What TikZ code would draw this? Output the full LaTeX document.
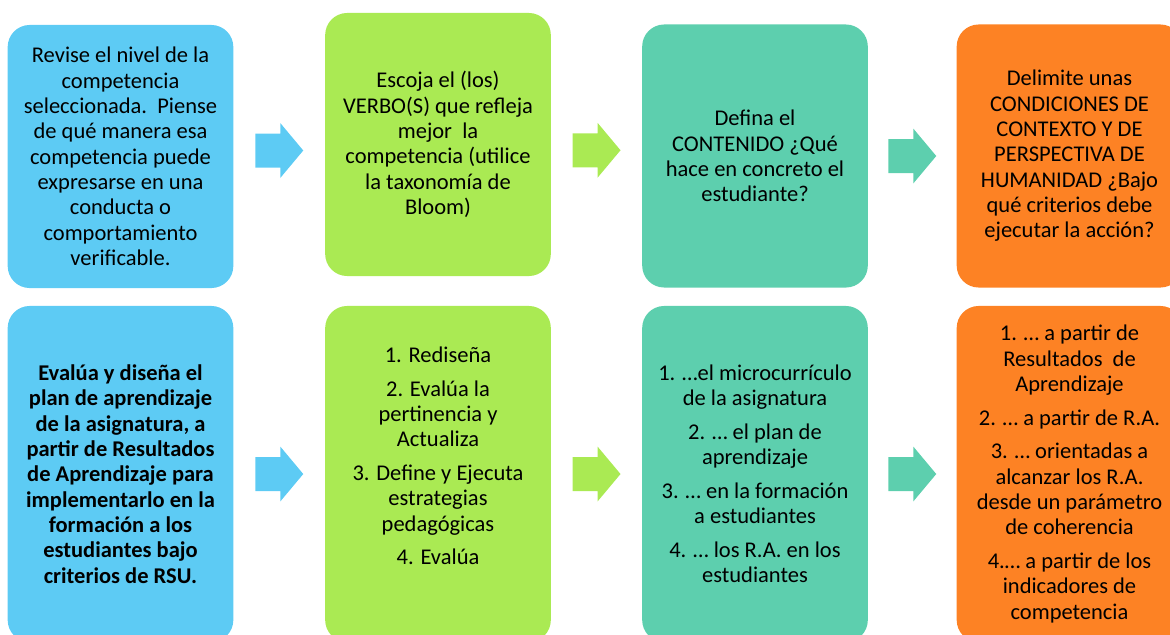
\documentclass[tikz,border=0pt]{standalone}
\usepackage{fontspec}
\setmainfont{Carlito}
\usetikzlibrary{calc}

\definecolor{cblue}{RGB}{93,203,244}
\definecolor{cgreen}{RGB}{170,234,83}
\definecolor{cteal}{RGB}{93,207,174}
\definecolor{corange}{RGB}{253,130,36}

\tikzset{
  box/.style={rounded corners=0.55cm, minimum width=5.64cm, inner sep=0pt, outer sep=0pt},
  toprow/.style={box, minimum height=6.575cm},
  lowrow/.style={box, minimum height=8.4cm},
  txt/.style={align=center, inner sep=0pt, font=\fontsize{16}{18}\selectfont},
}

\begin{document}
\begin{tikzpicture}[x=0.025cm, y=-0.025cm]
  \path[use as bounding box, clip] (0,0) rectangle (1170,634);
  % boxes
  \foreach \i / \x / \y / \col in {1/120.5/156.5/cblue, 2/438/144.5/cgreen, 3/755/156/cteal, 4/1069.5/156/corange} {
    \node[toprow, fill=\col] (b\i) at (\x,\y) {};
  }
  \foreach \i / \x / \col in {5/120.5/cblue, 6/438/cgreen, 7/755/cteal, 8/1069.5/corange} {
    \node[lowrow, fill=\col] (b\i) at (\x,474) {};
  }
  % arrows between the boxes
  \foreach \p / \q / \col in {b1/b2/cblue, b2/b3/cgreen, b3/b4/cteal, b5/b6/cblue, b6/b7/cgreen, b7/b8/cteal} {
    \path[fill=\col, shift={($(\p.east)!0.5!(\q.west)$)}]
      (-24,-17) -- (1,-17) -- (1,-27.5) -- (24,0) -- (1,27.5) -- (1,17) -- (-24,17) -- cycle;
  }
  % texts
  \node[txt] (t1) at (b1) {Revise el nivel de la\\competencia\\seleccionada.\ \ Piense\\de qué manera esa\\competencia puede\\expresarse en una\\conducta o\\comportamiento\\verificable.};
  \node[txt] (t2) at (b2) {Escoja el (los)\\VERBO(S) que refleja\\mejor\ \ la\\competencia (utilice\\la taxonomía de\\Bloom)};
  \node[txt] (t3) at (b3) {Defina el\\CONTENIDO ¿Qué\\hace en concreto el\\estudiante?};
  \node[txt] (t4) at (b4) {Delimite unas\\CONDICIONES DE\\CONTEXTO Y DE\\PERSPECTIVA DE\\HUMANIDAD ¿Bajo\\qué criterios debe\\ejecutar la acción?};
  \node[txt, font=\fontsize{16}{18}\selectfont\bfseries] (t5) at (b5) {Evalúa y diseña el\\plan de aprendizaje\\de la asignatura, a\\partir de Resultados\\de Aprendizaje para\\implementarlo en la\\formación a los\\estudiantes bajo\\criterios de RSU.};
  \node[txt, yshift=0.45cm] (t6) at (b6) {1. Rediseña\\[6pt]2. Evalúa la\\pertinencia y\\Actualiza\\[6pt]3. Define y Ejecuta\\estrategias\\pedagógicas\\[6pt]4. Evalúa};
  \node[txt] (t7) at (b7) {1. …el microcurrículo\\de la asignatura\\[6pt]2. … el plan de\\aprendizaje\\[6pt]3. … en la formación\\a estudiantes\\[6pt]4. … los R.A. en los\\estudiantes};
  \node[txt] (t8) at (b8) {1. … a partir de\\Resultados\ \ de\\Aprendizaje\\[6pt]2. … a partir de R.A.\\[6pt]3. … orientadas a\\alcanzar los R.A.\\desde un parámetro\\de coherencia\\[6pt]4.… a partir de los\\indicadores de\\competencia};
\end{tikzpicture}
\end{document}
